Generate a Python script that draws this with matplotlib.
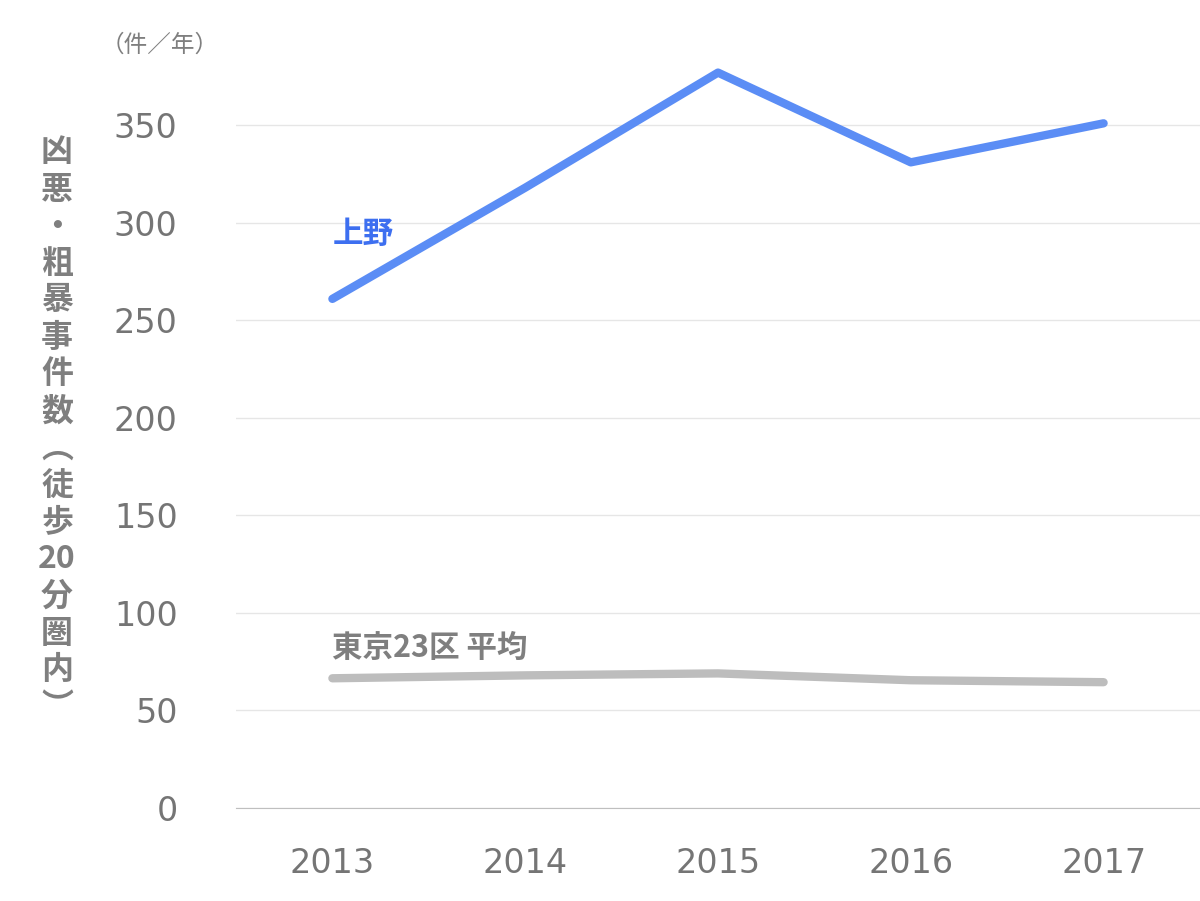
import matplotlib
matplotlib.use("Agg")
import matplotlib.pyplot as plt

years = ["2013", "2014", "2015", "2016", "2017"]
ueno = [261, 318, 377, 331, 351]
tokyo = [66.5, 68, 69, 65.5, 64.5]
yticks = [0, 50, 100, 150, 200, 250, 300, 350]

plt.rcParams['font.family'] = ['Noto Sans CJK JP', 'DejaVu Sans']
fig = plt.figure(figsize=(12, 9.01), dpi=100)
ax = fig.add_axes([236/1200, 1-808/901, 964/1200, (808-57)/901])
x = list(range(len(years)))
ax.plot(x, ueno, color='#5B8DF5', lw=6, solid_capstyle='round')
ax.plot(x, tokyo, color='#BDBDBD', lw=6, solid_capstyle='round')
ax.set_xlim(-0.5, 4.5)
ax.set_ylim(0, 385)
ax.set_yticks(yticks)
ax.set_xticks(x)
ax.set_xticklabels(years)
ax.tick_params(axis='both', length=0, labelsize=24, colors='#757575', pad=8)
ax.tick_params(axis='x', pad=28)
ax.tick_params(axis='y', pad=42)
ax.grid(axis='y', color='#E6E6E6', lw=1)
for s in ['top', 'right', 'left']:
    ax.spines[s].set_visible(False)
ax.spines['bottom'].set_color('#BFBFBF')
ax.set_axisbelow(True)
for lab in ax.get_xticklabels() + ax.get_yticklabels():
    lab.set_family(['DejaVu Sans'])

ax.text(0, 286, "上野", color='#3D6FF0', fontsize=22, fontweight='bold', ha='left', va='bottom')
ax.text(0, 74, "東京23区 平均", color='#7F7F7F', fontsize=22, fontweight='bold', ha='left', va='bottom')
fig.text(160/1200, 1-45/901, "（件／年）", color='#7F7F7F', fontsize=17, ha='center', va='center')
chars = ["凶", "悪", "・", "粗", "暴", "事", "件", "数", "︵", "徒", "歩", "20", "分", "圏", "内", "︶"]
fig.text(57/1200, 1-430/901, "\n".join(chars), color='#7F7F7F', fontsize=23, fontweight='bold',
         ha='center', va='center', linespacing=1.2, multialignment='center')
fig.savefig("out.png", dpi=100)
